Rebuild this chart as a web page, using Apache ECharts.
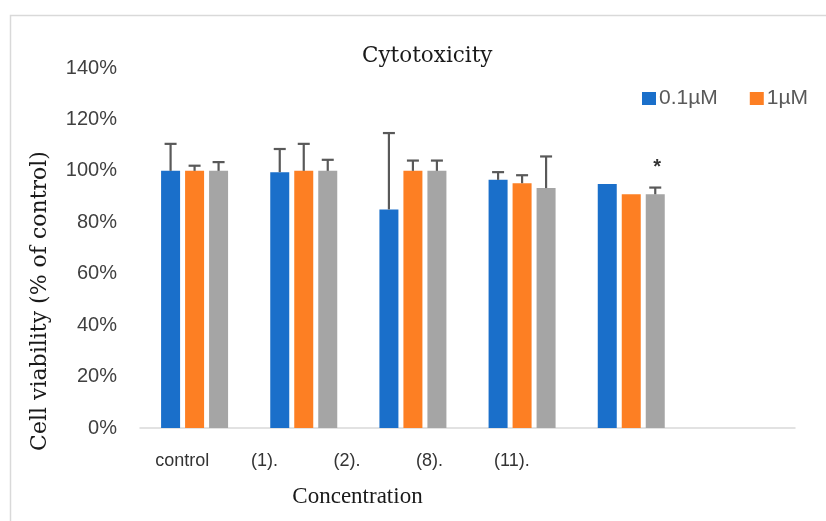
<!DOCTYPE html>
<html>
<head>
<meta charset="utf-8">
<script src="https://cdn.jsdelivr.net/npm/echarts@6/dist/echarts.min.js"></script>
<style>html,body{margin:0;padding:0;background:#fff}#c{width:826px;height:521px}</style>
</head>
<body>
<div id="c"></div>
<script>
// ---- data ----
var categories = ['control', '(1).', '(2).', '(8).', '(11).', ''];
var seriesNames = ['0.1\u00b5M', '1\u00b5M', '10\u00b5M'];
var blueValues   = [100, 99.5, 85, 96.5, 94.9, null];
var orangeValues = [100, 100, 100, 95.2, 90.9, null];
var grayValues   = [100, 100, 100, 93.3, 90.9, null];
var blueErrors   = [10.5, 9, 29.7, 3, 0, null];
var orangeErrors = [2, 10.5, 4, 3.1, 0, null];
var grayErrors   = [3.4, 4.3, 4, 12.3, 2.6, null];
var graySignif   = ['', '', '', '', '*', ''];
var yTicks = { min: 0, max: 140, interval: 20 };

var colors = ['#1a6fca', '#fd7f23', '#a5a5a5'];
var values = [blueValues, orangeValues, grayValues];
var errors = [blueErrors, orangeErrors, grayErrors];
var BAR_W = 19, BAR_GAP = 5;

var chart = echarts.init(document.getElementById('c'));

function errData(si) {
  var out = [];
  for (var i = 0; i < categories.length; i++) {
    if (values[si][i] == null) continue;
    out.push([i, values[si][i], errors[si][i]]);
  }
  return out;
}

function renderErr(params, api) {
  var si = params.seriesIndex - 3;
  var ci = api.value(0);
  var v = api.value(1);
  var e = api.value(2);
  var sig = params.seriesIndex === 5 ? graySignif[ci] : '';
  var base = api.coord([ci, v]);
  var top = api.coord([ci, v + e]);
  var x = base[0] + (si - 1) * (BAR_W + BAR_GAP);
  var children = [];
  if (e > 0) {
    children.push({ type: 'line', shape: { x1: x, y1: base[1], x2: x, y2: top[1] },
      style: { stroke: '#595959', lineWidth: 2.2 } });
    children.push({ type: 'line', shape: { x1: x - 6, y1: top[1], x2: x + 6, y2: top[1] },
      style: { stroke: '#595959', lineWidth: 2.2 } });
  }
  if (sig) {
    children.push({ type: 'text', style: { x: x + 2, y: top[1] - 10, text: sig,
      textAlign: 'center', textVerticalAlign: 'bottom', fontSize: 20, fontWeight: 'bold',
      fill: '#333', fontFamily: 'Liberation Sans' } });
  }
  return { type: 'group', children: children };
}

var series = [];
for (var s = 0; s < 3; s++) {
  series.push({
    type: 'bar', name: seriesNames[s], data: values[s], barWidth: BAR_W,
    barGap: (BAR_GAP / BAR_W * 100) + '%', itemStyle: { color: colors[s] },
    xAxisIndex: 0, yAxisIndex: 0, silent: true
  });
}
for (var s2 = 0; s2 < 3; s2++) {
  series.push({
    type: 'custom', name: 'err' + s2, data: errData(s2), renderItem: renderErr,
    xAxisIndex: 0, yAxisIndex: 0, z: 5, silent: true,
    encode: { x: 0, y: 1 }
  });
}

chart.setOption({
  animation: false,
  backgroundColor: '#fff',
  title: {
    text: 'Cytotoxicity', left: 357, top: 40,
    textStyle: { fontFamily: 'DejaVu Serif', fontSize: 21.5, fontWeight: 'normal', color: '#1a1a1a' }
  },
  legend: {
    data: [seriesNames[0], seriesNames[1]], left: 637, top: 83,
    icon: 'rect', itemWidth: 14, itemHeight: 13, itemGap: 32,
    textStyle: { fontFamily: 'Liberation Sans', fontSize: 21, color: '#595959', padding: [0, 0, 0, -2] }
  },
  graphic: [{
    type: 'rect', shape: { x: 10.5, y: 15.5, width: 840, height: 540 },
    style: { fill: 'none', stroke: '#d9d9d9', lineWidth: 1.5 }, silent: true
  }],
  grid: [
    { left: 140, right: 31, top: 68, bottom: 93 },
    { left: 141, width: 412, top: 68, bottom: 93 }
  ],
  xAxis: [{
    type: 'category', data: categories, gridIndex: 0,
    axisLine: { lineStyle: { color: '#d9d9d9', width: 1.5 } },
    axisTick: { show: false }, axisLabel: { show: false },
    name: 'Concentration', nameLocation: 'middle', nameGap: 57,
    nameTextStyle: { fontFamily: 'Liberation Serif', fontSize: 23, color: '#1a1a1a', padding: [0, 220, 0, 0] }
  }, {
    type: 'category', data: categories.slice(0, 5), gridIndex: 1,
    axisLine: { show: false }, axisTick: { show: false },
    axisLabel: { margin: 24, fontFamily: 'Liberation Sans', fontSize: 18, color: '#333' }
  }],
  yAxis: [{
    type: 'value', gridIndex: 0, min: yTicks.min, max: yTicks.max, interval: yTicks.interval,
    axisLine: { show: false }, axisTick: { show: false }, splitLine: { show: false },
    axisLabel: { formatter: '{value}%', margin: 23, fontFamily: 'Liberation Sans', fontSize: 20, color: '#404040' },
    name: 'Cell viability (% of control)', nameLocation: 'middle', nameGap: 89,
    nameTextStyle: { fontFamily: 'DejaVu Serif', fontSize: 22, color: '#1a1a1a', padding: [0, 106, 0, 0] }
  }, {
    type: 'value', gridIndex: 1, min: 0, max: 140, show: false
  }],
  series: series
});
</script>
</body>
</html>
